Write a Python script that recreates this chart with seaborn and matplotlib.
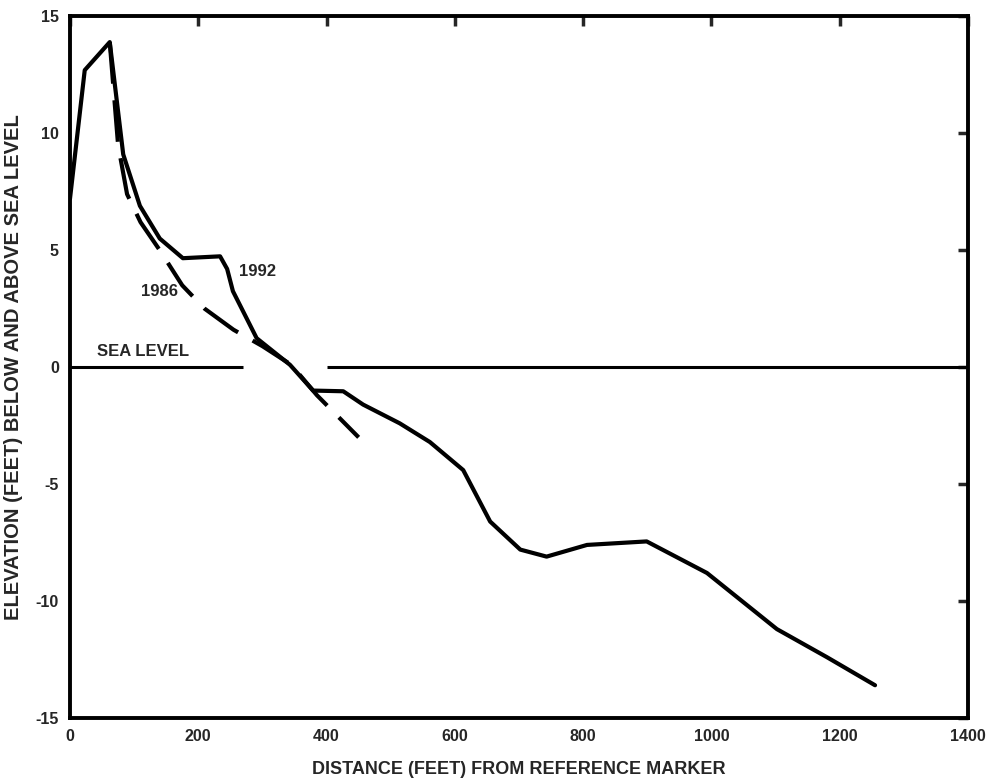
import numpy as np
import pandas as pd
import matplotlib
matplotlib.use("Agg")
import matplotlib.pyplot as plt
import seaborn as sns

# Profile data
x_1992 = [0, 23, 62, 83, 109, 140, 176, 234, 245, 254, 291, 343, 379, 426, 457,
          514, 561, 613, 655, 702, 743, 806, 899, 993, 1102, 1180, 1255]
y_1992 = [7.2, 12.7, 13.9, 9.1, 6.9, 5.5, 4.66, 4.74, 4.2, 3.25, 1.24, 0.1, -1.0,
          -1.03, -1.6, -2.4, -3.2, -4.4, -6.6, -7.8, -8.1, -7.6, -7.45, -8.8,
          -11.2, -12.4, -13.6]

x_1986 = [62, 75, 89, 110, 140, 175, 210, 255, 300, 345, 385, 450]
y_1986 = [13.9, 9.5, 7.4, 6.2, 5.0, 3.5, 2.5, 1.6, 0.9, 0.1, -1.2, -3.0]

# sea level drawn in two pieces with a gap
sea_left_x = [0, 270]
sea_right_x = [400, 1400]
sea_y = [0, 0]

x_ticks = [0, 200, 400, 600, 800, 1000, 1200, 1400]
y_ticks = [-15, -10, -5, 0, 5, 10, 15]

df92 = pd.DataFrame({"x": x_1992, "y": y_1992})
df86 = pd.DataFrame({"x": x_1986, "y": y_1986})

sns.set_style("white")
plt.rcParams["font.family"] = ["Liberation Sans", "DejaVu Sans"]
plt.rcParams["font.weight"] = "bold"
plt.rcParams["axes.unicode_minus"] = False

fig = plt.figure(figsize=(9.94, 7.8), dpi=100)
ax = fig.add_axes([0.0704, 0.0795, 0.9035, 0.8995])

sns.lineplot(data=df92, x="x", y="y", sort=False, estimator=None, color="black",
             linewidth=3, ax=ax)
sns.lineplot(data=df86, x="x", y="y", sort=False, estimator=None, color="black",
             linewidth=3, linestyle=(0, (10, 4)), ax=ax)
ax.plot(sea_left_x, sea_y, color="black", linewidth=2.2, solid_capstyle="butt")
ax.plot(sea_right_x, sea_y, color="black", linewidth=2.2, solid_capstyle="butt")

ax.text(42, 0.35, "SEA LEVEL", fontsize=12, fontweight="bold", ha="left", va="bottom")
ax.text(140, 3.25, "1986", fontsize=12, fontweight="bold", ha="center", va="center")
ax.text(292, 4.1, "1992", fontsize=12, fontweight="bold", ha="center", va="center")

ax.set_xlim(0, 1400)
ax.set_ylim(-15, 15)
ax.set_xticks(x_ticks)
ax.set_yticks(y_ticks)
ax.set_xlabel("DISTANCE (FEET) FROM REFERENCE MARKER", fontsize=13, fontweight="bold",
              labelpad=12)
ax.set_ylabel("ELEVATION (FEET) BELOW AND ABOVE SEA LEVEL", fontsize=14.5,
              fontweight="bold", labelpad=9)

ax.tick_params(direction="in", length=7, width=2.5, top=True, right=True,
               labelsize=11.5, pad=8)
for lab in ax.get_xticklabels() + ax.get_yticklabels():
    lab.set_fontweight("bold")
for sp in ax.spines.values():
    sp.set_visible(True)
    sp.set_linewidth(2.8)
    sp.set_color("black")

fig.savefig("out.png", dpi=100)
